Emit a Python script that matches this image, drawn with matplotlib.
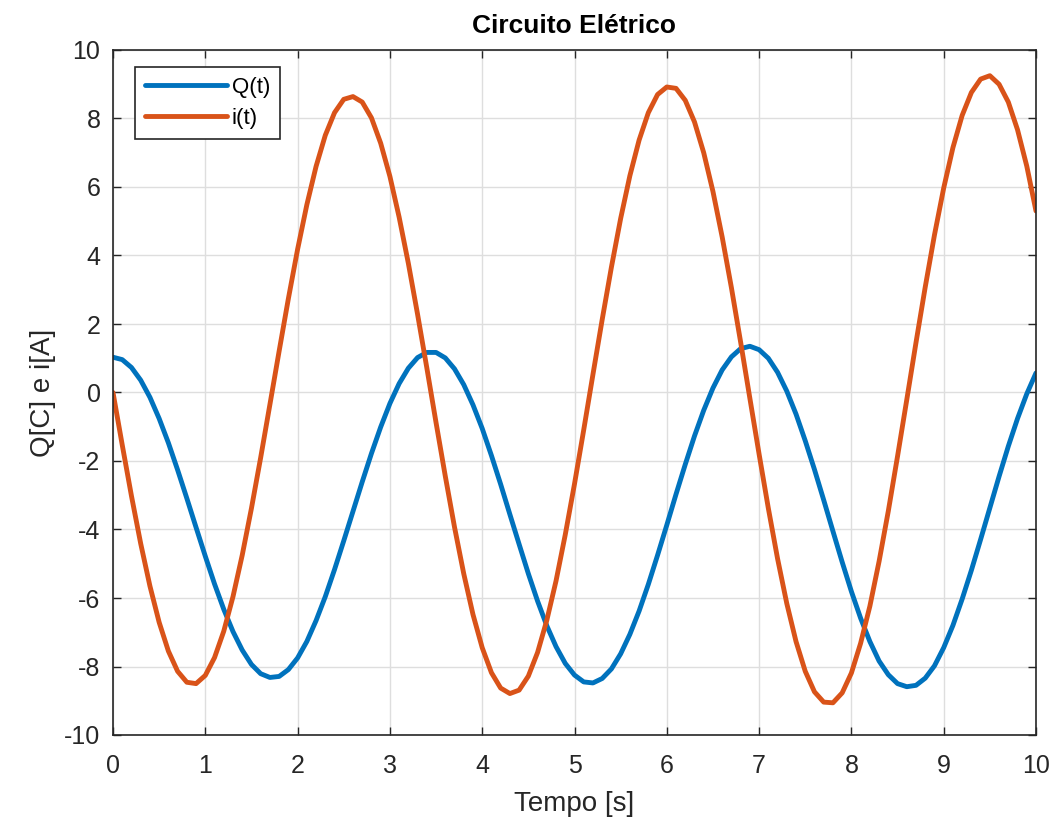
import matplotlib
matplotlib.use("Agg")
import matplotlib.pyplot as plt
from matplotlib import font_manager

# ---- data (t step 0.1 s) ----
t_start, t_stop, t_count = 0.0, 10.0, 101

Q_vals = [
    1.03, 0.96, 0.73, 0.36, -0.14, -0.76, -1.47, -2.26, -3.09, -3.94,
    -4.78, -5.59, -6.33, -6.98, -7.52, -7.94, -8.21, -8.32, -8.29, -8.09,
    -7.75, -7.27, -6.66, -5.96, -5.17, -4.33, -3.47, -2.61, -1.78, -1.01,
    -0.32, 0.26, 0.71, 1.02, 1.17, 1.17, 1.01, 0.69, 0.23, -0.36,
    -1.05, -1.84, -2.68, -3.56, -4.43, -5.29, -6.09, -6.81, -7.42, -7.91,
    -8.25, -8.45, -8.48, -8.35, -8.07, -7.63, -7.06, -6.38, -5.60, -4.75,
    -3.87, -2.97, -2.10, -1.27, -0.52, 0.13, 0.66, 1.04, 1.28, 1.35,
    1.25, 1.00, 0.59, 0.04, -0.63, -1.41, -2.25, -3.14, -4.05, -4.95,
    -5.81, -6.59, -7.27, -7.84, -8.24, -8.50, -8.59, -8.55, -8.34, -7.98,
    -7.45, -6.80, -6.03, -5.19, -4.29, -3.37, -2.45, -1.57, -0.76, -0.04,
    0.57,
]

i_vals = [
    0.00, -1.53, -3.02, -4.41, -5.65, -6.71, -7.55, -8.14, -8.46, -8.50,
    -8.26, -7.74, -6.97, -5.96, -4.75, -3.38, -1.90, -0.35, 1.21, 2.74,
    4.18, 5.48, 6.60, 7.51, 8.17, 8.56, 8.64, 8.48, 8.02, 7.28,
    6.31, 5.12, 3.77, 2.28, 0.72, -0.88, -2.44, -3.93, -5.29, -6.48,
    -7.45, -8.18, -8.63, -8.79, -8.69, -8.28, -7.59, -6.65, -5.50, -4.15,
    -2.67, -1.09, 0.53, 2.13, 3.66, 5.08, 6.33, 7.37, 8.17, 8.70,
    8.92, 8.88, 8.53, 7.90, 7.00, 5.87, 4.54, 3.06, 1.47, -0.17,
    -1.80, -3.38, -4.85, -6.16, -7.27, -8.14, -8.74, -9.04, -9.06, -8.77,
    -8.19, -7.32, -6.24, -4.93, -3.46, -1.86, -0.21, 1.46, 3.08, 4.60,
    5.97, 7.15, 8.09, 8.76, 9.15, 9.25, 9.00, 8.48, 7.67, 6.61,
    5.30,
]

t_vals = [t_start + k * (t_stop - t_start) / (t_count - 1) for k in range(t_count)]

series_labels = ["Q(t)", "i(t)"]
title_text = "Circuito Elétrico"
xlabel_text = "Tempo [s]"
ylabel_text = "Q[C] e i[A]"
x_ticks = list(range(0, 11))
y_ticks = list(range(-10, 11, 2))

# ---- fonts ----
names = {f.name for f in font_manager.fontManager.ttflist}
fam = ["Liberation Sans", "DejaVu Sans"]
fam = [f for f in fam if f in names] or ["DejaVu Sans"]
plt.rcParams["font.family"] = fam
plt.rcParams["axes.unicode_minus"] = False

fig = plt.figure(figsize=(10.56, 8.22), dpi=100)
ax = fig.add_axes([113 / 1056, 1 - 735 / 822, (1036 - 113) / 1056, (735 - 50) / 822])

ax.plot(t_vals, Q_vals, color="#0072BD", lw=3.5, label=series_labels[0],
        solid_capstyle="round", solid_joinstyle="round")
ax.plot(t_vals, i_vals, color="#D95319", lw=3.5, label=series_labels[1],
        solid_capstyle="round", solid_joinstyle="round")

ax.set_xlim(0, 10)
ax.set_ylim(-10, 10)
ax.set_xticks(x_ticks)
ax.set_yticks(y_ticks)
ax.grid(True, color="#dedede", lw=1.0)
ax.set_axisbelow(True)
ax.tick_params(direction="in", top=True, right=True, length=6, width=1.0,
               color="#262626", labelsize=18, labelcolor="#262626")
ax.tick_params(axis="x", pad=14)
ax.tick_params(axis="y", pad=9)
for s in ax.spines.values():
    s.set_color("#262626")
    s.set_linewidth(1.2)

ax.set_title(title_text, fontsize=19, fontweight="bold", color="black", pad=12)
ax.set_xlabel(xlabel_text, fontsize=20, color="#262626", labelpad=9)
ax.set_ylabel(ylabel_text, fontsize=20, color="#262626", labelpad=6)

leg = ax.legend(loc="upper left", bbox_to_anchor=(0.0238, 0.975), fontsize=16,
                handlelength=3.7, handletextpad=0.2, borderpad=0.45,
                labelspacing=0.45, fancybox=False, framealpha=1, borderaxespad=0)
leg.get_frame().set_edgecolor("#262626")
leg.get_frame().set_linewidth(1.2)

fig.savefig("out.png", dpi=100, facecolor="white")
